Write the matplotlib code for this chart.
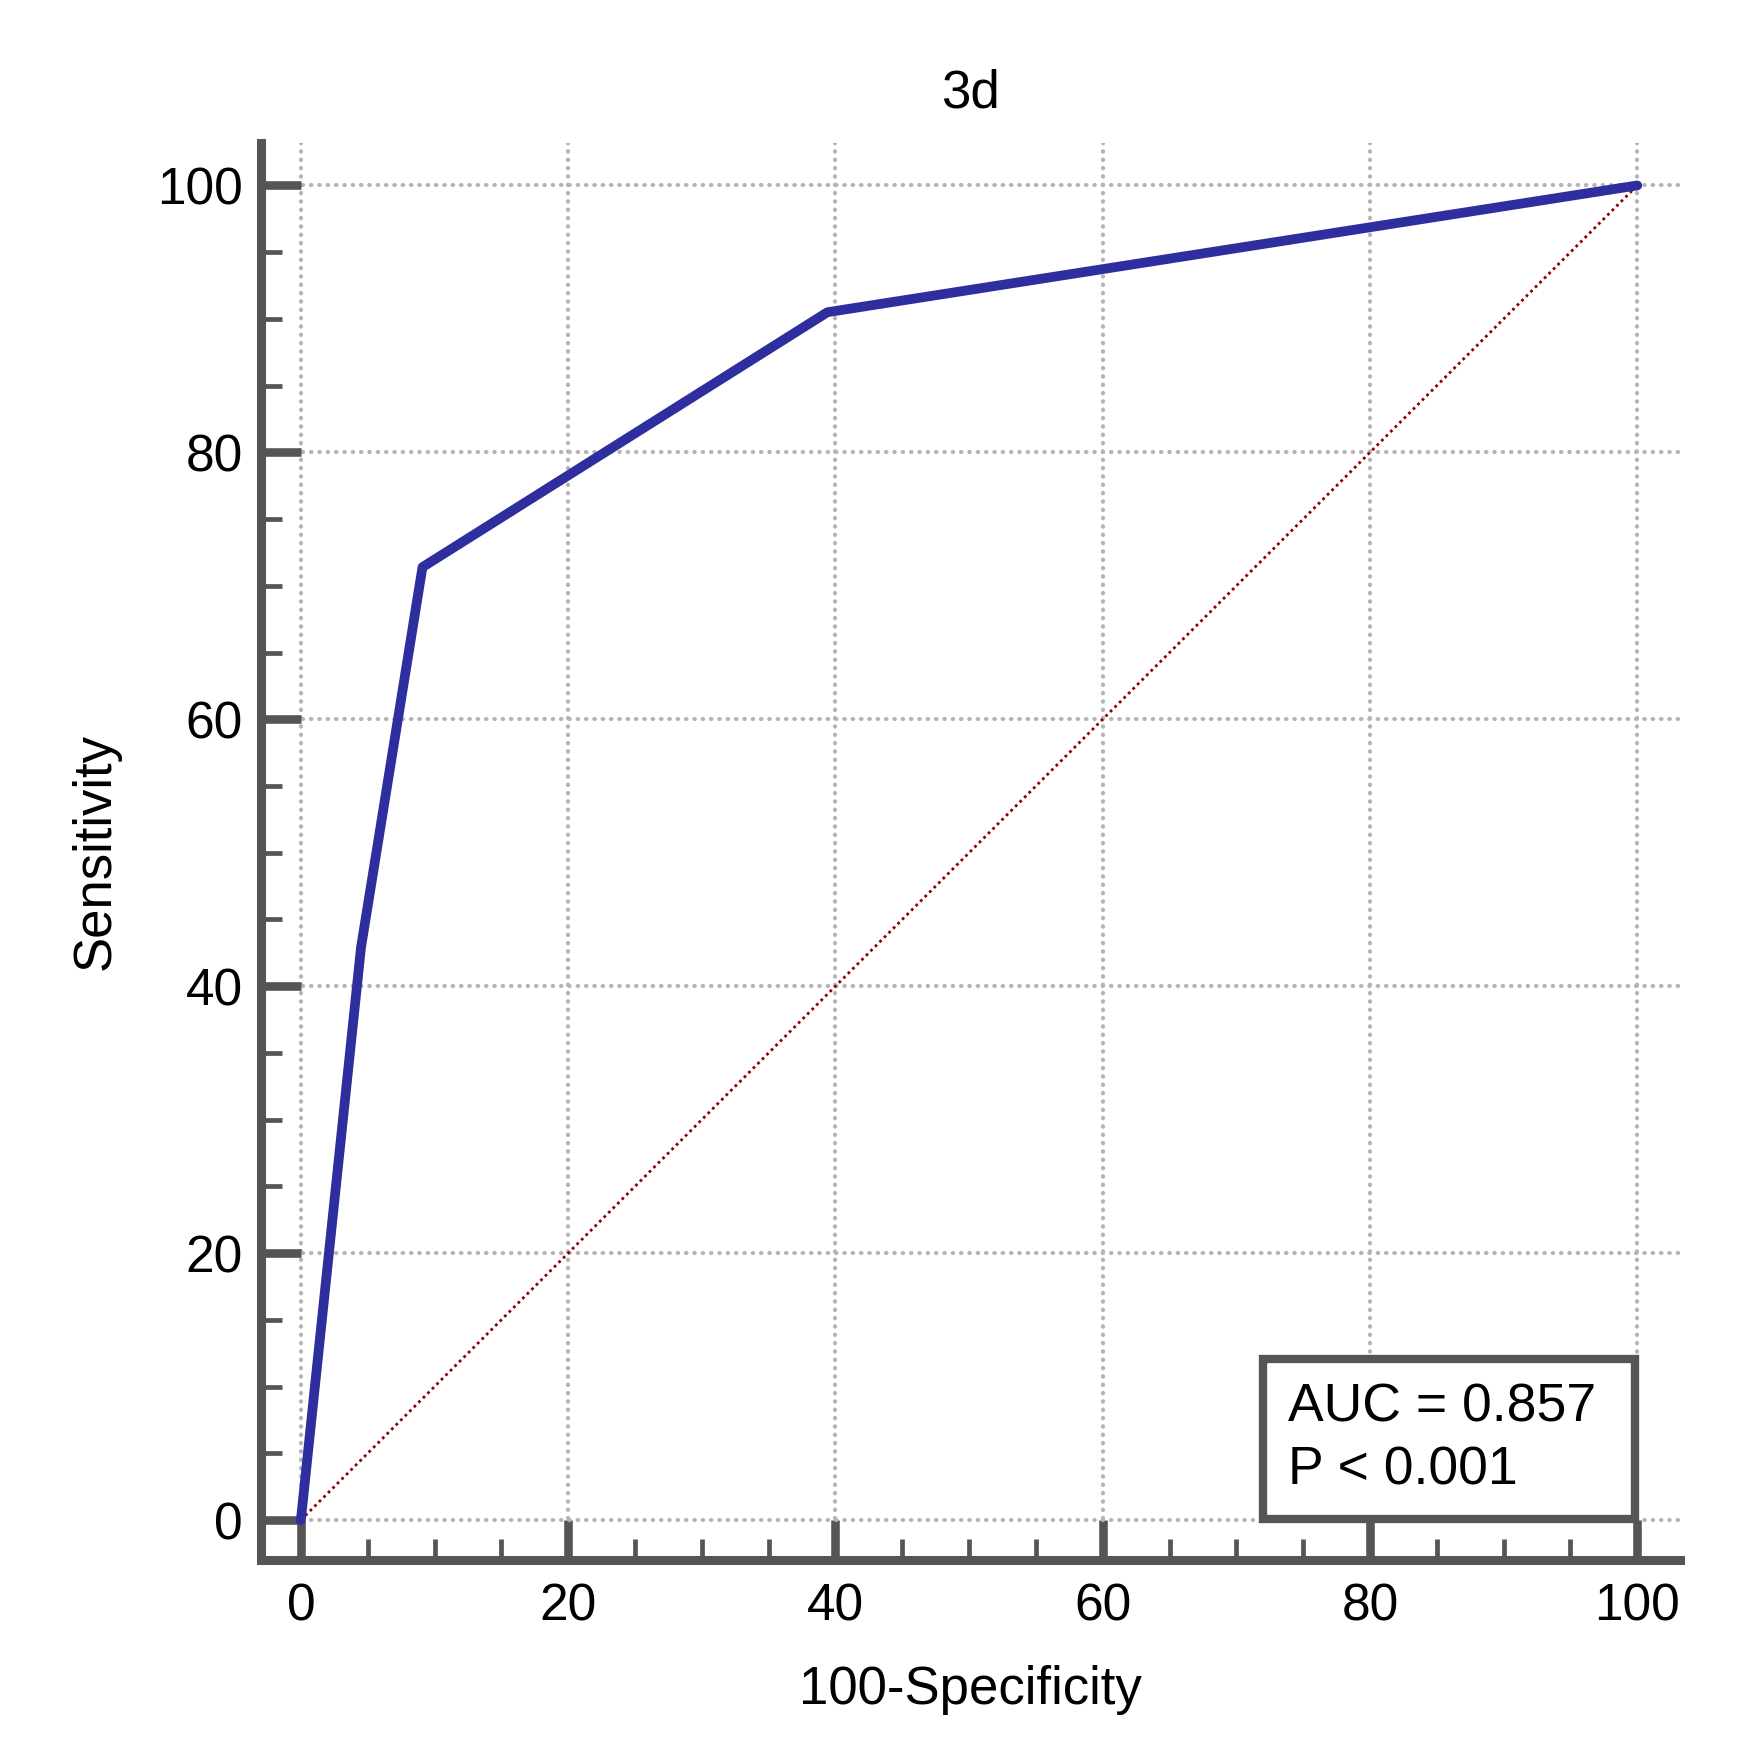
import matplotlib
matplotlib.use('Agg')
import matplotlib.pyplot as plt
from matplotlib.patches import Rectangle
from matplotlib.ticker import MultipleLocator

# Curva ROC (100-Especificidad, Sensibilidad)
fpr = [0, 4.5, 9.1, 39.4, 100]
tpr = [0, 42.9, 71.4, 90.5, 100]

titulo = '3d'
etiqueta_x = '100-Specificity'
etiqueta_y = 'Sensitivity'
texto_auc = 'AUC = 0.857'
texto_p = 'P < 0.001'

plt.rcParams['font.family'] = ['Liberation Sans', 'DejaVu Sans']
gris = '#555555'

fig = plt.figure(figsize=(17.62, 17.62), dpi=100)
ax = fig.add_axes([0.148, 0.1146, 0.8055, 0.8044])

# Linea de referencia
ax.plot([0, 100], [0, 100], color='#8B0000', linewidth=2.0,
        linestyle=(0, (1, 1.3)), zorder=2)

# Curva
ax.plot(fpr, tpr, color='#2E2E9E', linewidth=7.0,
        solid_joinstyle='round', solid_capstyle='round', zorder=3)

ax.set_xlim(-3.0, 103.2)
ax.set_ylim(-3.0, 103.2)

ax.xaxis.set_major_locator(MultipleLocator(20))
ax.yaxis.set_major_locator(MultipleLocator(20))
ax.xaxis.set_minor_locator(MultipleLocator(5))
ax.yaxis.set_minor_locator(MultipleLocator(5))

ax.grid(True, which='major', color='#b4b4b4', linewidth=3.0,
        linestyle=(0, (0.1, 1.9)), dash_capstyle='round', zorder=1)

for lado in ['top', 'right']:
    ax.spines[lado].set_visible(False)
for lado in ['left', 'bottom']:
    ax.spines[lado].set_color(gris)
    ax.spines[lado].set_linewidth(6.5)

ax.tick_params(which='major', direction='in', length=29, width=6.2,
               color=gris, labelsize=37, pad=16, labelcolor='black')
ax.tick_params(which='minor', direction='in', length=15, width=3.4,
               color=gris)
ax.tick_params(axis='y', which='major', pad=13)

ax.set_title(titulo, fontsize=38, pad=25)
ax.set_xlabel(etiqueta_x, fontsize=38, labelpad=24)
ax.set_ylabel(etiqueta_y, fontsize=38, labelpad=26)

# Cuadro con AUC
caja = Rectangle((72, 0.1), 27.8, 12.0, facecolor='white', edgecolor=gris,
                 linewidth=6, zorder=4, clip_on=False)
ax.add_patch(caja)
ax.text(73.9, 7.4, texto_auc, fontsize=38.5, zorder=5, va='baseline')
ax.text(73.9, 2.7, texto_p, fontsize=38.5, zorder=5, va='baseline')

plt.savefig('out.png', dpi=100)
plt.close()
